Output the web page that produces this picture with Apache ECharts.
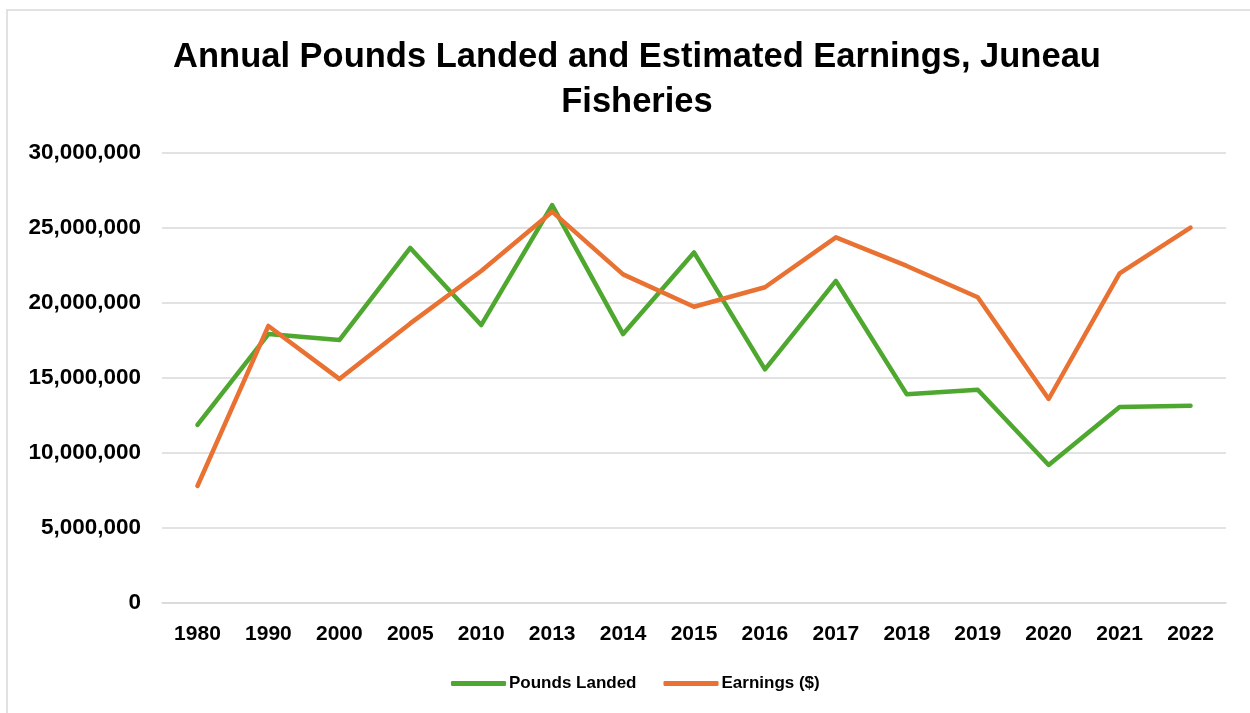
<!DOCTYPE html>
<html>
<head>
<meta charset="utf-8">
<script src="https://cdn.jsdelivr.net/npm/echarts@6/dist/echarts.min.js"></script>
<style>
  html, body { margin: 0; padding: 0; background: #ffffff; }
  #chart { width: 1250px; height: 713px; }
</style>
</head>
<body>
<div id="chart"></div>
<script>
// Juneau fisheries: annual pounds landed and estimated earnings
const years = ['1980', '1990', '2000', '2005', '2010', '2013', '2014', '2015', '2016', '2017', '2018', '2019', '2020', '2021', '2022'];
const poundsLanded = [11850000, 17910000, 17510000, 23650000, 18510000, 26500000, 17910000, 23350000, 15560000, 21450000, 13890000, 14200000, 9180000, 13050000, 13130000];
const earnings = [7780000, 18450000, 14920000, 18620000, 22110000, 26070000, 21890000, 19730000, 21030000, 24360000, 22450000, 20360000, 13580000, 21960000, 25000000];
const seriesNames = ['Pounds Landed', 'Earnings ($)'];
const titleText = 'Annual Pounds Landed and Estimated Earnings, Juneau\nFisheries';

const GREEN = '#4EA72E';
const ORANGE = '#E97132';
const GRID = '#d9d9d9';
const FONT = '"Liberation Sans", Arial, sans-serif';

const chart = echarts.init(document.getElementById('chart'), null, { renderer: 'canvas' });

const fmt = v => v.toLocaleString('en-US');

chart.setOption({
  animation: false,
  backgroundColor: '#ffffff',
  graphic: [{
    type: 'rect',
    shape: { x: 7, y: 10, width: 1400, height: 900 },
    style: { fill: 'none', stroke: GRID, lineWidth: 1.5 },
    silent: true
  }],
  title: {
    text: titleText,
    left: 632,
    top: 30,
    textAlign: 'center',
    textStyle: {
      fontFamily: FONT,
      fontWeight: 'bold',
      fontSize: 34.5,
      lineHeight: 45,
      color: '#000000'
    }
  },
  legend: {
    data: seriesNames,
    left: 446,
    top: 670,
    icon: 'roundRect',
    itemWidth: 55,
    itemHeight: 5,
    itemGap: 27,
    textStyle: {
      fontFamily: FONT,
      fontWeight: 'bold',
      fontSize: 17,
      color: '#000000',
      padding: [0, 0, 0, -2]
    }
  },
  grid: {
    left: 162,
    right: 24,
    top: 152.7,
    bottom: 110.3,
    containLabel: false
  },
  xAxis: {
    type: 'category',
    data: years,
    boundaryGap: true,
    axisLine: { show: true, lineStyle: { color: GRID, width: 1.5 } },
    axisTick: { show: false },
    axisLabel: {
      margin: 21,
      fontFamily: FONT,
      fontWeight: 'bold',
      fontSize: 21,
      color: '#000000'
    }
  },
  yAxis: {
    type: 'value',
    min: 0,
    max: 30000000,
    interval: 5000000,
    axisLine: { show: false },
    axisTick: { show: false },
    splitLine: { lineStyle: { color: GRID, width: 1.5 } },
    axisLabel: {
      margin: 21,
      fontFamily: FONT,
      fontWeight: 'bold',
      fontSize: 22.5,
      color: '#000000',
      formatter: fmt
    }
  },
  series: [
    {
      name: seriesNames[0],
      type: 'line',
      data: poundsLanded,
      symbol: 'none',
      color: GREEN,
      lineStyle: { color: GREEN, width: 4.5, cap: 'round', join: 'round' }
    },
    {
      name: seriesNames[1],
      type: 'line',
      data: earnings,
      symbol: 'none',
      color: ORANGE,
      lineStyle: { color: ORANGE, width: 4.5, cap: 'round', join: 'round' }
    }
  ]
});
</script>
</body>
</html>
